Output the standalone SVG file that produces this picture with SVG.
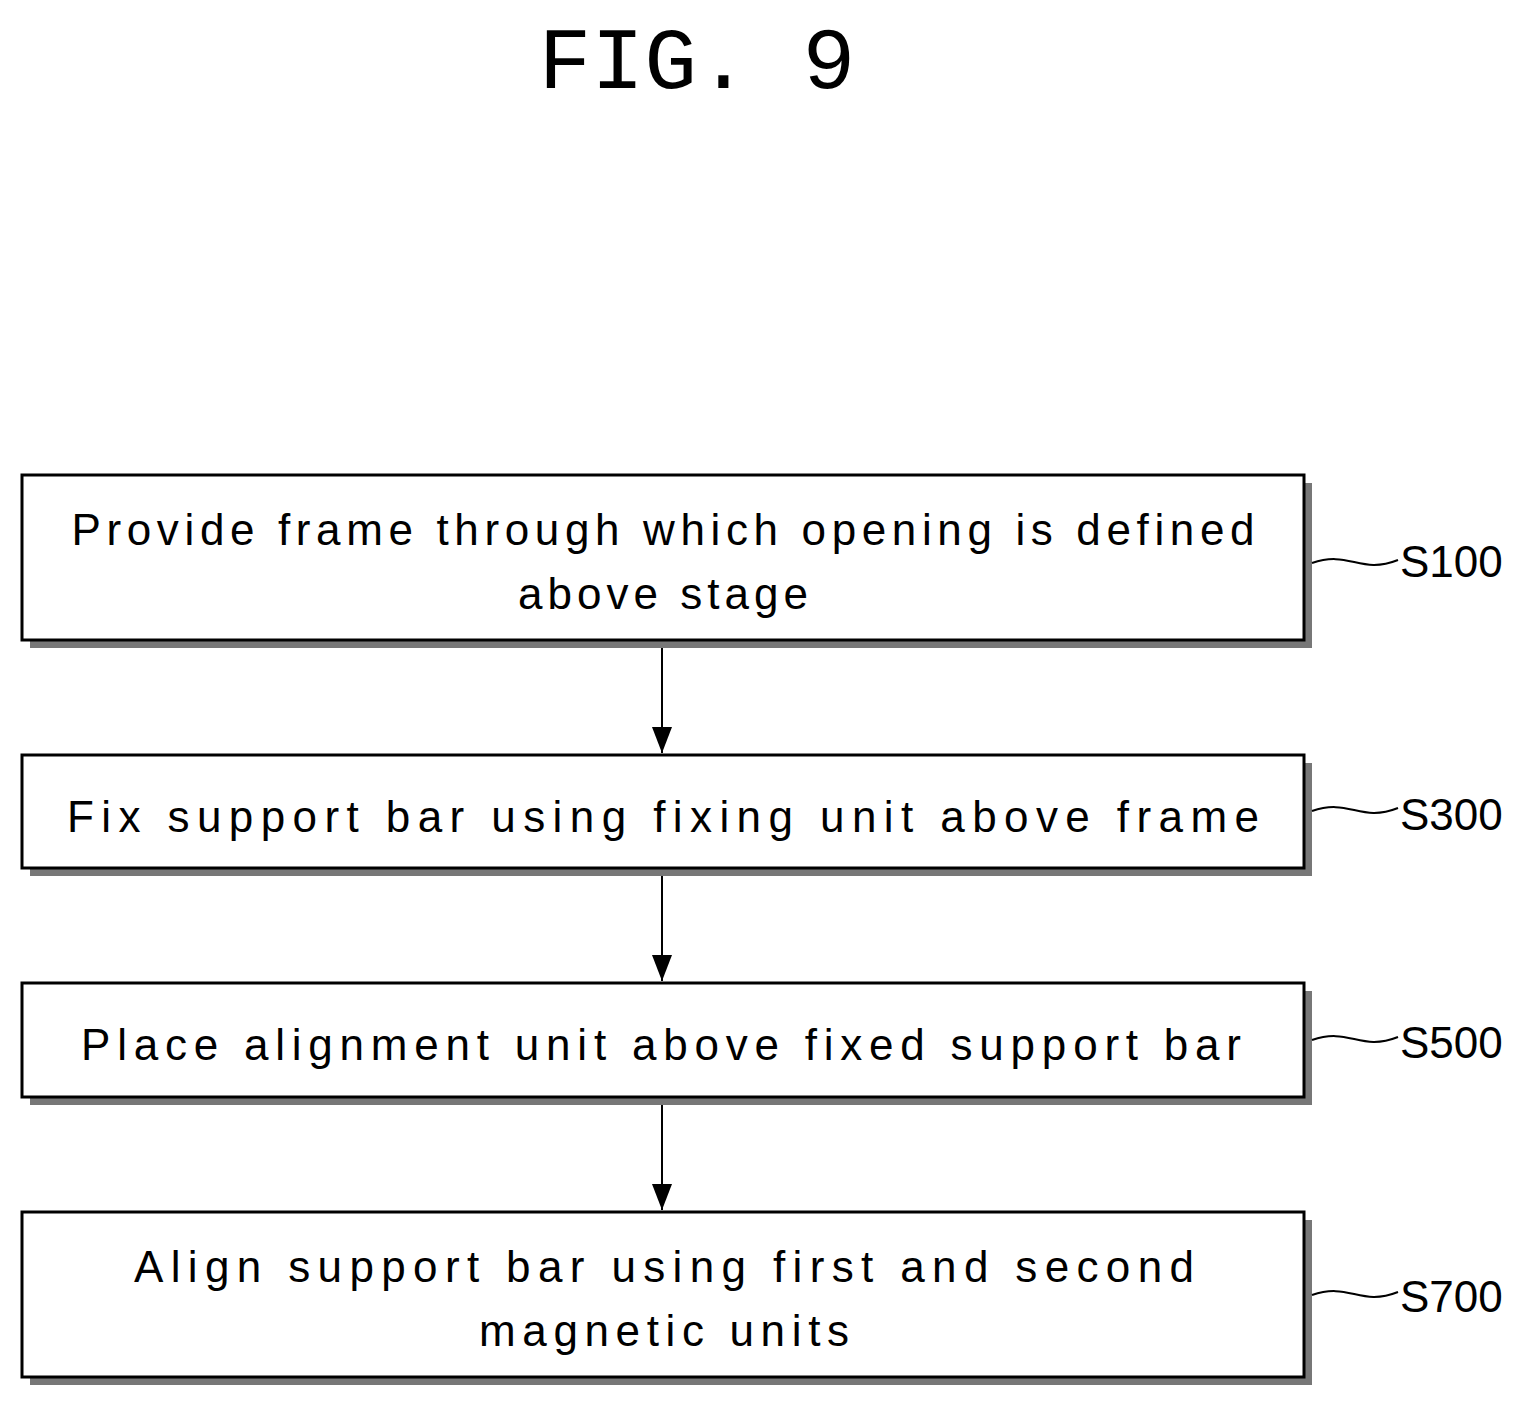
<svg xmlns="http://www.w3.org/2000/svg" width="1525" height="1408" viewBox="0 0 1525 1408">
<style>
text{font-family:"Liberation Sans",Arial,sans-serif;fill:#000}
.t{font-size:44px;text-anchor:middle}
.l{font-size:44px}
.box{fill:#fff;stroke:#000;stroke-width:3}
.sh{fill:#777}
.c{fill:none;stroke:#000;stroke-width:2}
</style>
<defs>
<marker id="ah" markerWidth="26" markerHeight="20" refX="26" refY="10" orient="auto" markerUnits="userSpaceOnUse"><path d="M0,0 L26,10 L0,20 Z" fill="#000"/></marker></defs>
<text x="697" y="88" style="font-family:'Liberation Mono',monospace;font-size:88px;text-anchor:middle">FIG. 9</text>
<g id="n1"><rect class="sh" x="30" y="483" width="1282" height="165"/><rect class="box" x="22" y="475" width="1282" height="165"/>
<text class="t" x="663" y="545" textLength="1183" lengthAdjust="spacing">Provide frame through which opening is defined</text>
<text class="t" x="663" y="609" textLength="290" lengthAdjust="spacing">above stage</text>
<path class="c" d="M1312,563 C1350,550 1360,575 1398,560"/><text class="l" x="1400" y="577">S100</text></g>
<g id="n2"><rect class="sh" x="30" y="763" width="1282" height="113"/><rect class="box" x="22" y="755" width="1282" height="113"/>
<text class="t" x="663" y="832" textLength="1192" lengthAdjust="spacing">Fix support bar using fixing unit above frame</text>
<path class="c" d="M1312,811 C1350,798 1360,823 1398,808"/><text class="l" x="1400" y="830">S300</text></g>
<g id="n3"><rect class="sh" x="30" y="991" width="1282" height="114"/><rect class="box" x="22" y="983" width="1282" height="114"/>
<text class="t" x="661" y="1060" textLength="1160" lengthAdjust="spacing">Place alignment unit above fixed support bar</text>
<path class="c" d="M1312,1040 C1350,1027 1360,1052 1398,1037"/><text class="l" x="1400" y="1058">S500</text></g>
<g id="n4"><rect class="sh" x="30" y="1220" width="1282" height="165"/><rect class="box" x="22" y="1212" width="1282" height="165"/>
<text class="t" x="664" y="1282" textLength="1060" lengthAdjust="spacing">Align support bar using first and second</text>
<text class="t" x="664" y="1346" textLength="370" lengthAdjust="spacing">magnetic units</text>
<path class="c" d="M1312,1295 C1350,1282 1360,1307 1398,1292"/><text class="l" x="1400" y="1312">S700</text></g>
<g id="connectors">
<line class="c" x1="662" y1="648" x2="662" y2="753" marker-end="url(#ah)"/>
<line class="c" x1="662" y1="876" x2="662" y2="981" marker-end="url(#ah)"/>
<line class="c" x1="662" y1="1105" x2="662" y2="1210" marker-end="url(#ah)"/>
</g>
</svg>
